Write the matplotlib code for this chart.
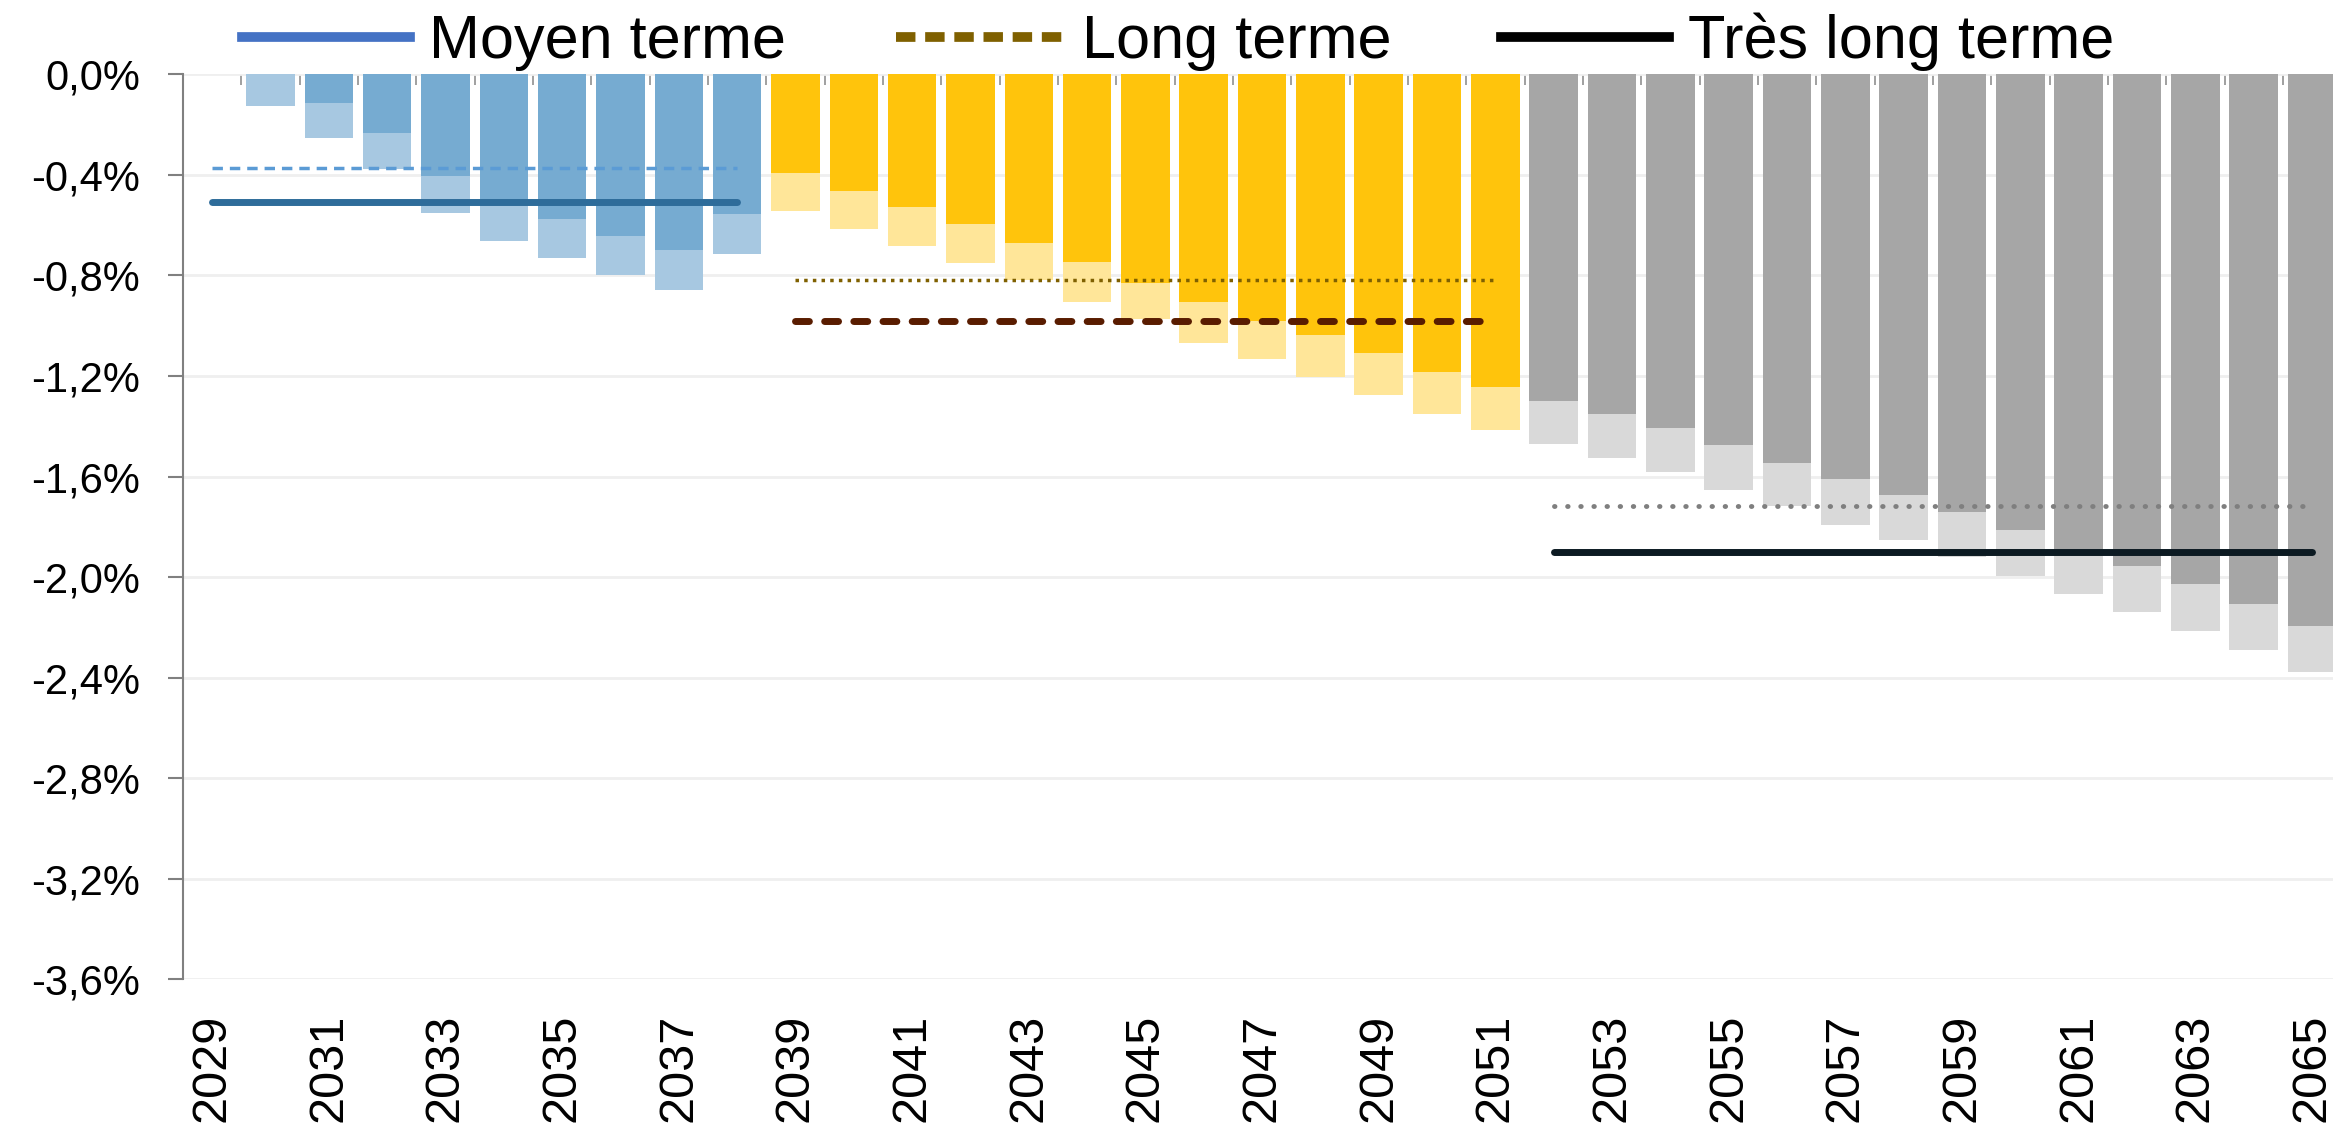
import matplotlib.pyplot as plt
import numpy as np
from matplotlib.lines import Line2D

years = list(range(2029, 2066))

# scénario central (barres foncées) et scénario défavorable (barres claires), en % du PIB
central = [0.0, 0.0, -0.113, -0.234, -0.404, -0.506, -0.576, -0.642, -0.698, -0.556,
           -0.393, -0.465, -0.528, -0.596, -0.672, -0.747, -0.828, -0.906, -0.980,
           -1.037, -1.109, -1.184, -1.244,
           -1.299, -1.352, -1.408, -1.474, -1.547, -1.611, -1.674, -1.743, -1.813,
           -1.893, -1.956, -2.027, -2.109, -2.194]
defavorable = [0.0, -0.126, -0.253, -0.377, -0.550, -0.662, -0.730, -0.800, -0.857, -0.714,
               -0.543, -0.616, -0.682, -0.751, -0.817, -0.905, -0.975, -1.068, -1.131,
               -1.203, -1.275, -1.351, -1.413,
               -1.469, -1.526, -1.581, -1.653, -1.716, -1.792, -1.851, -1.922, -1.994,
               -2.067, -2.139, -2.213, -2.290, -2.377]

# moyennes par horizon
horizons = ['Moyen terme', 'Long terme', 'Très long terme']
debut = [2029, 2039, 2052]
fin = [2038, 2051, 2065]
moy_central = [-0.371, -0.819, -1.718]
moy_defav = [-0.506, -0.980, -1.899]

yticks = [0.0, -0.4, -0.8, -1.2, -1.6, -2.0, -2.4, -2.8, -3.2, -3.6]

# couleurs par horizon
fonce = ['#76ABD1', '#FFC40C', '#A6A6A6']
clair = ['#A7C8E1', '#FFE699', '#D9D9D9']

plt.rcParams['font.family'] = ['Liberation Sans', 'DejaVu Sans']

fig = plt.figure(figsize=(23.33, 11.28), dpi=100)
ax = fig.add_axes([0.0784, 0.132, 0.9216, 0.802])

x = np.arange(len(years))
groupe = np.array([0 if y <= fin[0] else (1 if y <= fin[1] else 2) for y in years])

ax.bar(x, defavorable, width=0.83, color=[clair[g] for g in groupe], zorder=2)
ax.bar(x, central, width=0.83, color=[fonce[g] for g in groupe], zorder=3)

# lignes de moyenne
def segment(i):
    return [years.index(debut[i]), years.index(fin[i])]

ax.plot(segment(0), [moy_central[0]] * 2, color='#5B9BD5', lw=2.5, ls=(0, (3, 2)), zorder=4)
ax.plot(segment(0), [moy_defav[0]] * 2, color='#2E6C9A', lw=5, solid_capstyle='round', zorder=4)
ax.plot(segment(1), [moy_central[1]] * 2, color='#7F6000', lw=2.5, ls=(0, (1, 1.5)), zorder=4)
ax.plot(segment(1), [moy_defav[1]] * 2, color='#591C00', lw=5, ls=(0, (2, 2.2)),
        dash_capstyle='round', zorder=4)
ax.plot(segment(2), [moy_central[2]] * 2, color='#7F7F7F', lw=3.5, ls=(0, (0.1, 2.6)),
        dash_capstyle='round', zorder=4)
ax.plot(segment(2), [moy_defav[2]] * 2, color='#0C1A22', lw=5, solid_capstyle='round', zorder=4)

# axes
ax.set_xlim(-0.5, len(years) - 0.64)
ax.set_ylim(-3.6, 0)
ax.set_yticks(yticks)
ax.set_yticklabels([('%.1f%%' % v).replace('.', ',').replace('-0,0', '0,0') for v in yticks],
                   fontsize=30)
ax.set_xticks(x[::2])
ax.set_xticklabels([str(y) for y in years[::2]], rotation=90, fontsize=35)
ax.tick_params(axis='x', length=0, pad=25)
ax.tick_params(axis='y', length=11, width=1.5, color='#808080', pad=20)
ax.set_xticks(x[:-1] + 0.5, minor=True)
ax.tick_params(axis='x', which='minor', top=True, bottom=False, direction='in',
               length=8, width=1.2, color='#909090')

ax.grid(axis='y', color='#EFEFEF', lw=2, zorder=0)
for s in ['top', 'right', 'bottom']:
    ax.spines[s].set_visible(False)
ax.spines['left'].set_color('#808080')
ax.spines['left'].set_linewidth(1.5)

# légende
handles = [Line2D([], [], color='#4472C4', lw=7),
           Line2D([], [], color='#7F6000', lw=7, ls=(0, (2, 1))),
           Line2D([], [], color='black', lw=7)]
fig.legend(handles, horizons, loc='center', bbox_to_anchor=(0.505, 0.963), ncol=3,
           frameon=False, fontsize=44, handlelength=2.75, handletextpad=0.3,
           columnspacing=1.8)

plt.savefig('out.png', dpi=100)
